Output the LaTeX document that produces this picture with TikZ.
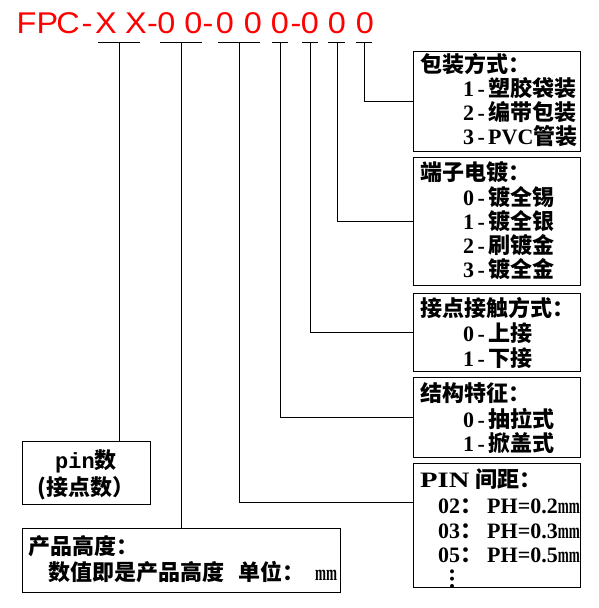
\documentclass[tikz,border=0pt]{standalone}
\usepackage{fontspec}
\usepackage{graphicx}
\usetikzlibrary{calc}
\setmainfont{Liberation Serif}
\newfontfamily\cjk{Noto Sans CJK SC}
\newfontfamily\titlefont{Liberation Sans}
\newfontfamily\pinmono{Liberation Mono}
\newcommand\lat[1]{{\rmfamily\bfseries #1}}
\newcommand\hy{\makebox[14pt]{\rmfamily\bfseries -}}
\newcommand\smm{\scalebox{0.6}[1]{mm}}
\begin{document}
\begin{tikzpicture}[x=1pt,y=-1pt,
  box/.style={draw, line width=1pt, inner sep=0pt, outer sep=0pt, anchor=north west},
  tl/.style={anchor=base west, inner sep=0pt, font=\cjk\bfseries\fontsize{22}{22}\selectfont},
  tc/.style={anchor=base, inner sep=0pt, font=\cjk\bfseries\fontsize{22}{22}\selectfont},
  ttl/.style={anchor=base, inner sep=0pt, text=red, font=\titlefont\fontsize{30}{30}\selectfont},
  wire/.style={line width=1pt}]
\useasboundingbox (0,0) rectangle (599,608);

% title
\foreach \c/\xx [count=\i] in {F/26.5,P/47.5,C/68,-/87,X/106,X/136,-/152.5,0/166.5,0/193.5,-/208,0/225,0/253,0/280,-/296,0/310,0/337,0/365}
  \node[ttl] (t\i) at (\xx,33) {\scalebox{1.08}[1]{\c}};

% boxes
\node[box, minimum width=167pt, minimum height=100pt] (b1) at (413,51) {};
\node[box, minimum width=167pt, minimum height=128pt] (b2) at (413,157) {};
\node[box, minimum width=167pt, minimum height=78pt] (b3) at (413,293) {};
\node[box, minimum width=167pt, minimum height=80pt] (b4) at (413,377) {};
\node[box, minimum width=167pt, minimum height=124pt] (b5) at (413,463) {};
\node[box, minimum width=128pt, minimum height=63pt] (pb) at (22,441) {};
\node[box, minimum width=318pt, minimum height=64pt] (hb) at (22,528) {};

% box texts
\node[tl] (b1a) at (420,72) {包装方式：};
\node[tl] (b1b) at (463,96) {\lat{1}\hy 塑胶袋装};
\node[tl] (b1c) at (463,120) {\lat{2}\hy 编带包装};
\node[tl] (b1d) at (463,144) {\lat{3}\hy\lat{PVC}管装};

\node[tl] (b2a) at (420,180) {端子电镀：};
\node[tl] (b2b) at (463,205) {\lat{0}\hy 镀全锡};
\node[tl] (b2c) at (463,229) {\lat{1}\hy 镀全银};
\node[tl] (b2d) at (463,253) {\lat{2}\hy 刷镀金};
\node[tl] (b2e) at (463,277) {\lat{3}\hy 镀全金};

\node[tl] (b3a) at (420,316) {接点接触方式：};
\node[tl] (b3b) at (463,341) {\lat{0}\hy 上接};
\node[tl] (b3c) at (463,366) {\lat{1}\hy 下接};

\node[tl] (b4a) at (420,401) {结构特征：};
\node[tl] (b4b) at (463,427) {\lat{0}\hy 抽拉式};
\node[tl] (b4c) at (463,451) {\lat{1}\hy 掀盖式};

\node[tl] (b5a) at (420,487) {\makebox[55pt][l]{\lat{\scalebox{1.3}[1]{PIN}}}间距：};
\node[tl] (b5b) at (438,513) {\lat{02}：\hspace{5pt}\lat{PH=0.2\smm}};
\node[tl] (b5c) at (438,538) {\lat{03}：\hspace{5pt}\lat{PH=0.3\smm}};
\node[tl] (b5d) at (438,562) {\lat{05}：\hspace{5pt}\lat{PH=0.5\smm}};
\node[tl] (dots) at (441,587) {︙};

\node[tc] (pba) at (86,468) {{\pinmono\bfseries pin}数};
\node[tc] (pbb) at (86,495) {(接点数）};

\node[tl] (hba) at (28,554) {产品高度：};
\node[tl] (hbb) at (48,580) {数值即是产品高度\hspace{14pt}单位：\hspace{11pt}\lat{\smm}};

% underline bars
\coordinate (u1a) at (98,42);  \coordinate (u1b) at (140,42); \coordinate (u1) at (119,42);
\coordinate (u2a) at (160,42); \coordinate (u2b) at (202,42); \coordinate (u2) at (181,42);
\coordinate (u3a) at (218,42); \coordinate (u3b) at (260,42); \coordinate (u3) at (239,42);
\coordinate (u4a) at (272,42); \coordinate (u4b) at (288,42); \coordinate (u4) at (280,42);
\coordinate (u5a) at (302,42); \coordinate (u5b) at (318,42); \coordinate (u5) at (310,42);
\coordinate (u6a) at (328,42); \coordinate (u6b) at (345,42); \coordinate (u6) at (337,42);
\coordinate (u7a) at (356,42); \coordinate (u7b) at (372,42); \coordinate (u7) at (364,42);
\foreach \k in {1,...,7} \draw[wire] (u\k a) -- (u\k b);

% connectors
\draw[wire] (u1) -- (u1 |- pb.north);
\draw[wire] (u2) -- (u2 |- hb.north);
\draw[wire] (u3) |- ($(b5.north west)+(0,39)$);
\draw[wire] (u4) |- (b4.west);
\draw[wire] (u5) |- (b3.west);
\draw[wire] (u6) |- (b2.west);
\draw[wire] (u7) |- (b1.west);
\end{tikzpicture}
\end{document}
